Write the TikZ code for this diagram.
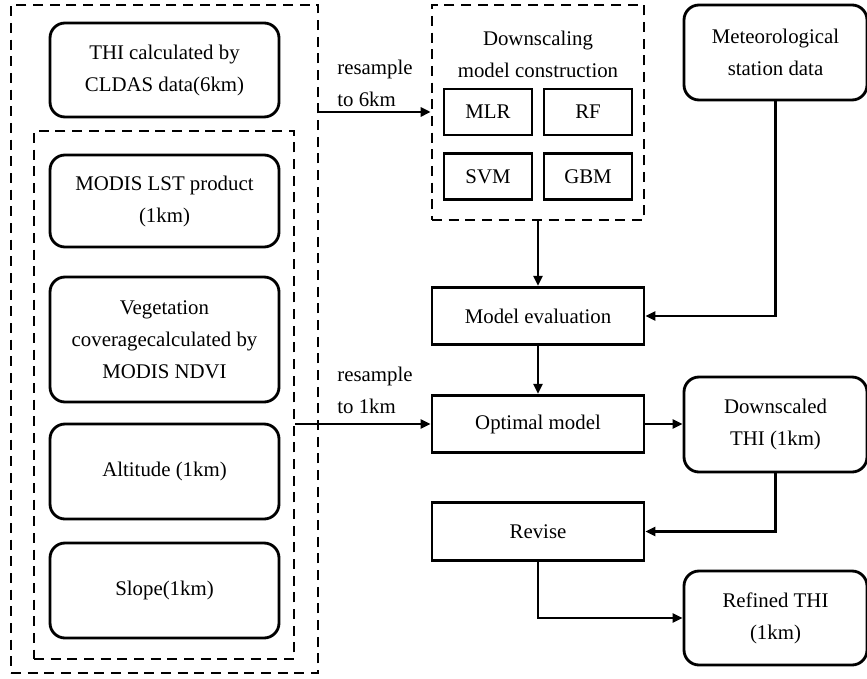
\documentclass[tikz,border=0pt]{standalone}
\usepackage{fontspec}
\setmainfont{Liberation Serif}
\usetikzlibrary{arrows.meta}

\begin{document}
\begin{tikzpicture}
        [x=0.6pt, y=-0.6pt,
        every node/.style = {font=\fontsize{12.5}{19.2}\selectfont, align=center, inner sep=0pt},
        group/.style = {draw, line width=1.6pt, dash pattern=on 6pt off 4pt},
        rbox/.style = {draw, line width=1.7pt, rounded corners=9pt,
        minimum width=137.4pt},
        sbox/.style = {draw, line width=1.7pt, minimum width=127.2pt,
        minimum height=34.5pt},
        mbox/.style = {draw, line width=1.7pt, minimum width=52.8pt,
        minimum height=27.6pt},
        link/.style = {line width=1.3pt, -{Triangle[length=6pt,width=5.5pt]}}]

        \useasboundingbox (0,0) rectangle (867,679);

        % Input groups
        \node[group, minimum width=184.2pt, minimum height=400.8pt] (outer) at (164.5,339) {};
        \node[group, minimum width=156pt, minimum height=316.8pt] (inner) at (164,395) {};

        % Input data
        \node[rbox, minimum height=56.4pt] (thi) at (164.5,70) {THI calculated by\\CLDAS data(6km)};
        \node[rbox, minimum height=55.2pt] (lst) at (164.5,201) {MODIS LST product\\(1km)};
        \node[rbox, minimum height=75pt] (veg) at (164.5,339.5) {Vegetation\\coveragecalculated by\\MODIS NDVI};
        \node[rbox, minimum height=57pt] (alt) at (164.5,471.5) {Altitude (1km)};
        \node[rbox, minimum height=57pt] (slope) at (164.5,590.5) {Slope(1km)};

        % Downscaling models
        \node[group, minimum width=127.2pt, minimum height=129pt] (down) at (538,112.5) {};
        \node (downtitle) at (538,54) {Downscaling\\model construction};
        \node[mbox] (mlr) at (488,112) {MLR};
        \node[mbox] (rf) at (588,112) {RF};
        \node[mbox] (svm) at (488,176.5) {SVM};
        \node[mbox] (gbm) at (588,176.5) {GBM};

        % Right column
        \node[rbox, minimum width=109.8pt, minimum height=57pt] (met) at (775.5,52.5) {Meteorological\\station data};
        \node[sbox] (eval) at (538,316) {Model evaluation};
        \node[sbox] (opt) at (538,424) {Optimal model};
        \node[sbox] (rev) at (538,531.5) {Revise};
        \node[rbox, minimum width=109.8pt, minimum height=57pt] (dsc) at (775.5,424.5) {Downscaled\\THI (1km)};
        \node[rbox, minimum width=109.8pt, minimum height=56.4pt] (ref) at (775.5,618) {Refined THI\\(1km)};

        % Labels
        \node[anchor=west, align=left] (res6) at (337,83) {resample\\to 6km};
        \node[anchor=west, align=left] (res1) at (337,390) {resample\\to 1km};

        % Connectors
        \draw[link] (outer.east |- mlr.west) -- (down.west |- mlr.west);
        \draw[link] (inner.east |- opt.west) -- (opt.west);
        \draw[link] (down.south) -- (eval.north);
        \draw[link] (met.south) |- (eval.east);
        \draw[link] (eval.south) -- (opt.north);
        \draw[link] (opt.east) -- (dsc.west |- opt.east);
        \draw[link] (dsc.south) |- (rev.east);
        \draw[link] (rev.south) |- (ref.west);
    \end{tikzpicture}
\end{document}
